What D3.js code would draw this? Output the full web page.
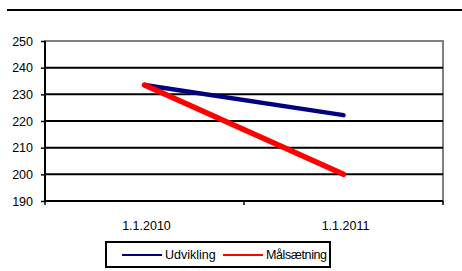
<!DOCTYPE html>
<html>
<head>
<meta charset="utf-8">
<script src="https://cdn.jsdelivr.net/npm/d3@7"></script>
<style>
  body { margin: 0; background: #fff; }
  svg { display: block; font-family: "Liberation Sans", Arial, sans-serif; }
</style>
</head>
<body>
<svg width="462" height="271"></svg>
<script>
const categories = ["1.1.2010", "1.1.2011"];
const udvikling = [233.5, 222.2];
const malsaetning = [233.5, 200];
const yTicks = [190, 200, 210, 220, 230, 240, 250];
const seriesNames = ["Udvikling", "Målsætning"];
const seriesColors = ["#000080", "#ff0000"];

const svg = d3.select('svg');
const width = +svg.attr('width');
const height = +svg.attr('height');

const margin = { top: 41, right: 19, bottom: 70, left: 45 };
const innerWidth = width - margin.left - margin.right;
const innerHeight = height - margin.top - margin.bottom;
const fontSize = 12.5;

// top rule
svg.append('line')
  .attr('x1', 7).attr('x2', width)
  .attr('y1', 10).attr('y2', 10)
  .attr('stroke', '#000').attr('stroke-width', 2);

const g = svg.append('g')
  .attr('transform', `translate(${margin.left}, ${margin.top})`);

const xScale = d3.scaleBand()
  .domain(categories)
  .range([0, innerWidth]);

const yScale = d3.scaleLinear()
  .domain([190, 250])
  .range([innerHeight, 0]);

// plot border (gray)
g.append('rect')
  .attr('x', 0).attr('y', 0)
  .attr('width', innerWidth).attr('height', innerHeight)
  .attr('fill', 'none')
  .attr('stroke', '#808080').attr('stroke-width', 2);

// gridlines
g.selectAll('.grid').data(yTicks.filter(d => d < 250))
  .enter().append('line')
    .attr('class', 'grid')
    .attr('x1', 0).attr('x2', innerWidth)
    .attr('y1', d => yScale(d)).attr('y2', d => yScale(d))
    .attr('stroke', '#000').attr('stroke-width', 2);

// y axis
const yAxis = d3.axisLeft(yScale)
  .tickValues(yTicks)
  .tickSize(4)
  .tickPadding(8);
const yAxisG = g.append('g').call(yAxis);
yAxisG.select('.domain').remove();
yAxisG.selectAll('.tick line').attr('stroke', '#000').attr('stroke-width', 1.5);
yAxisG.selectAll('.tick text')
  .attr('font-size', fontSize).attr('fill', '#000')
  .attr('font-family', '"Liberation Sans", Arial, sans-serif');
g.append('line')
  .attr('x1', 0).attr('x2', 0)
  .attr('y1', 0).attr('y2', innerHeight + 1)
  .attr('stroke', '#000').attr('stroke-width', 2);

// x axis
g.append('line')
  .attr('x1', 0).attr('x2', innerWidth)
  .attr('y1', innerHeight).attr('y2', innerHeight)
  .attr('stroke', '#000').attr('stroke-width', 2);
const xTicks = [0, innerWidth / 2, innerWidth];
g.selectAll('.xtick').data(xTicks)
  .enter().append('line')
    .attr('x1', d => d).attr('x2', d => d)
    .attr('y1', innerHeight).attr('y2', innerHeight + 4)
    .attr('stroke', '#000').attr('stroke-width', 1.5);
g.selectAll('.xlabel').data(categories)
  .enter().append('text')
    .attr('x', d => xScale(d) + xScale.bandwidth() / 2 + 2)
    .attr('y', innerHeight + 29)
    .attr('text-anchor', 'middle')
    .attr('font-size', fontSize)
    .text(d => d);

// lines
const line = d3.line()
  .x((d, i) => xScale(categories[i]) + xScale.bandwidth() / 2)
  .y(d => yScale(d));

[udvikling, malsaetning].forEach((s, i) => {
  g.append('path')
    .datum(s)
    .attr('d', line)
    .attr('fill', 'none')
    .attr('stroke', seriesColors[i])
    .attr('stroke-width', i === 0 ? 4.5 : 5.5)
    .attr('stroke-linecap', 'round');
});

// legend
const legend = svg.append('g').attr('transform', 'translate(106, 242)');
legend.append('rect')
  .attr('x', 0).attr('y', 0)
  .attr('width', 224).attr('height', 25)
  .attr('fill', '#fff')
  .attr('stroke', '#000').attr('stroke-width', 2);
const legendX = [16, 117];
seriesNames.forEach((name, i) => {
  legend.append('line')
    .attr('x1', legendX[i]).attr('x2', legendX[i] + 40)
    .attr('y1', 13).attr('y2', 13)
    .attr('stroke', seriesColors[i]).attr('stroke-width', 2);
  legend.append('text')
    .attr('x', legendX[i] + 43)
    .attr('y', 17)
    .attr('font-size', fontSize)
    .attr('textLength', i === 1 ? 61 : null)
    .text(name);
});
</script>
</body>
</html>
